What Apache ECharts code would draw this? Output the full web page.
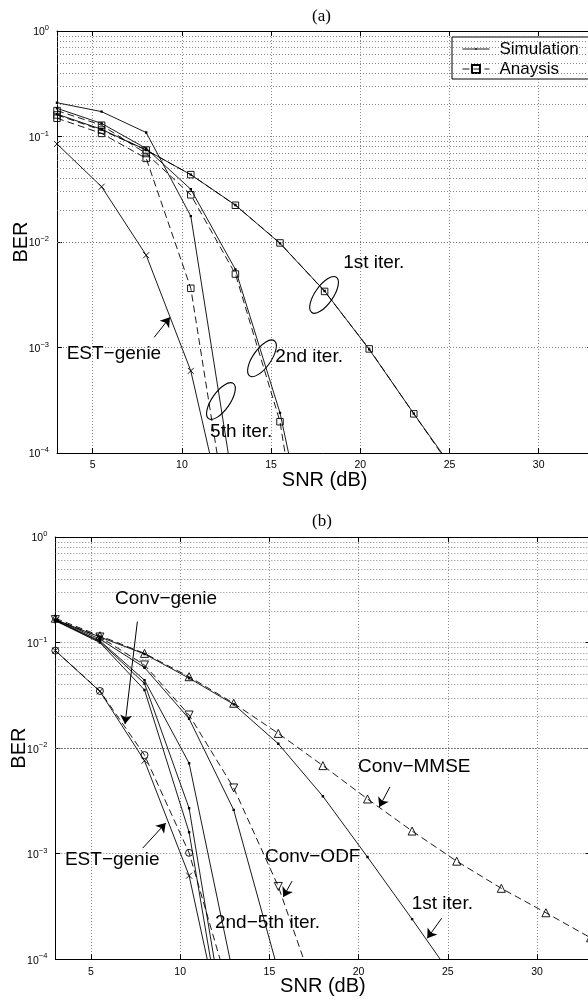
<!DOCTYPE html>
<html><head><meta charset="utf-8">
<script src="https://cdn.jsdelivr.net/npm/echarts@6/dist/echarts.min.js"></script>
<style>html,body{margin:0;padding:0;background:#fff}#c{width:588px;height:1000px}</style>
</head><body><div id="c"></div>
<script>
// ---------- data ----------
const snr = [3, 5.5, 8, 10.5, 13, 15.5, 18, 20.5, 23, 25.5, 28, 30.5, 33];
const xTicks = [5, 10, 15, 20, 25, 30];
const yMinorMult = [2, 3, 4, 5, 6, 7, 8, 9];
const yDecades = [1e-4, 1e-3, 1e-2, 1e-1];

// panel (a)
const a1Sim = [0.163, 0.117, 0.0745, 0.0435, 0.0224, 0.0097, 0.00343, 9.6e-4, 2.36e-4, 6e-5];
const a1Ana = [0.160, 0.115, 0.0745, 0.0435, 0.0223, 0.0098, 0.00340, 9.7e-4, 2.35e-4, 5.8e-5];
const a2Sim = [0.185, 0.133, 0.077, 0.0316, 0.0055, 2.4e-4, 2.5e-6];
const a2Ana = [0.176, 0.128, 0.069, 0.028, 0.00497, 1.98e-4, 4.5e-7];
const a5Sim = [0.209, 0.172, 0.109, 0.0176, 3.7e-5];
const a5Ana = [0.149, 0.107, 0.062, 0.00364, 8e-6];
const aEst  = [0.085, 0.0334, 0.0075, 6.0e-4, 8.5e-6];

// panel (b)
const bMmse = [0.17, 0.116, 0.079, 0.0475, 0.0266, 0.0138, 0.00683, 0.0033, 0.00164, 8.5e-4, 4.7e-4, 2.76e-4, 1.6e-4];
const bOdf  = [0.165, 0.113, 0.0614, 0.0206, 0.0042, 4.9e-4, 3e-5];
const bCg   = [0.084, 0.0348, 0.0086, 1.02e-3, 3.6e-5];
const bEst  = [0.084, 0.0345, 0.0076, 6.2e-4, 7e-6];
const b1    = [0.165, 0.113, 0.078, 0.046, 0.026, 0.011, 0.0035, 9.3e-4, 2.4e-4, 6e-5];
const b2    = [0.165, 0.108, 0.058, 0.019, 0.0026, 7.7e-5];
const b3    = [0.163, 0.104, 0.044, 0.0072, 6.8e-5];
const b4    = [0.162, 0.102, 0.041, 0.0027, 7.6e-6];
const b5    = [0.161, 0.100, 0.0356, 0.0016, 5e-6];

// annotations (data coordinates)
const annA = [['1st iter.', 19.04, 6.3e-3], ['2nd iter.', 15.24, 8.2e-4], ['5th iter.', 11.58, 1.59e-4], ['EST\u2212genie', 3.54, 8.8e-4]];
const ellA = [[17.97, 3.15e-3], [14.49, 7.9e-4], [12.19, 3.11e-4]];
const arrA = [[8.45, 1.25e-3, 9.33, 1.93e-3]];
const annB = [['Conv\u2212genie', 6.35, 0.259], ['EST\u2212genie', 3.54, 8.7e-4], ['Conv\u2212ODF', 14.75, 9.3e-4],
              ['Conv\u2212MMSE', 19.97, 6.6e-3], ['1st iter.', 22.98, 3.35e-4], ['2nd\u22125th iter.', 11.95, 2.22e-4]];
const arrB = [[7.6, 0.158, 6.91, 0.0169], [7.9, 1.13e-3, 9.19, 1.95e-3], [16.27, 5.5e-4, 15.78, 3.9e-4],
              [21.76, 4.3e-3, 21.16, 2.77e-3], [24.66, 2.45e-4, 23.85, 1.58e-4]];

// ---------- styles ----------
const FF = '"Liberation Sans", Arial, Helvetica, sans-serif';
const GRIDC = '#6a6a6a';
const DOT = 'path://M0,0h0.01v0.01h-0.01zM4,4h2v2h-2zM9.99,9.99h0.01v0.01h-0.01z';
const XMK = 'path://M0,0L10,10M10,0L0,10';
const SYM = {
  dot: {s: DOT, size: 12, fill: '#000'},
  sq: {s: 'rect', size: 6.5},
  x: {s: XMK, size: 6},
  o: {s: 'circle', size: 7},
  up: {s: 'triangle', size: 8},
  dn: {s: 'triangle', size: 8, rot: 180}
};

function ser(name, vals, gi, dashed, sym) {
  const sy = SYM[sym];
  return {
    type: 'line', name: name, xAxisIndex: gi * 2, yAxisIndex: gi * 2,
    data: vals.map((v, i) => [snr[i], v]),
    lineStyle: {color: '#000', width: 0.9, type: dashed ? [7, 4] : 'solid'},
    itemStyle: {color: sy.fill || 'rgba(0,0,0,0)', borderColor: '#000', borderWidth: sy.fill ? 0 : 0.9},
    symbol: sy.s, symbolSize: sy.size, symbolRotate: sy.rot || 0,
    showSymbol: true, showAllSymbol: true, z: 5, silent: true, clip: true, animation: false
  };
}

function minorVals() {
  const out = [];
  yDecades.forEach(d => yMinorMult.forEach(m => out.push({yAxis: d * m})));
  return out;
}
function gridSeries(gi) {
  return {
    type: 'line', name: 'grid' + gi, xAxisIndex: gi * 2, yAxisIndex: gi * 2, data: [], z: 1, silent: true, animation: false,
    markLine: {silent: true, animation: false, symbol: ['none', 'none'], label: {show: false},
      lineStyle: {color: GRIDC, type: [1, 2], width: 0.8}, emphasis: {disabled: true},
      data: minorVals()}
  };
}
function arrowSeries(gi, arr) {
  return {
    type: 'line', name: 'arrows' + gi, xAxisIndex: gi * 2, yAxisIndex: gi * 2, data: [], z: 6, silent: true, animation: false,
    markLine: {silent: true, animation: false, symbol: ['none', 'arrow'], symbolSize: 9, label: {show: false},
      lineStyle: {color: '#000', type: 'solid', width: 1}, emphasis: {disabled: true},
      data: arr.map(a => [{coord: [a[0], a[1]]}, {coord: [a[2], a[3]]}])}
  };
}

function xAx(gi, pos) {
  const bottom = pos === 'bottom';
  return {
    type: 'value', gridIndex: gi, position: pos, min: 3, max: 33,
    axisLine: {show: true, onZero: false, lineStyle: {color: '#000', width: 1}},
    axisTick: {show: true, inside: true, length: 5, customValues: xTicks, lineStyle: {color: '#000', width: 1}},
    axisLabel: {show: bottom, customValues: xTicks, fontSize: 10.5, color: '#000', margin: 7, fontFamily: FF},
    splitLine: {show: bottom, lineStyle: {color: GRIDC, type: [1, 2], width: 0.8}},
    name: bottom ? 'SNR (dB)' : '', nameLocation: 'middle', nameGap: 17, nameMoveOverlap: false,
    nameTextStyle: {fontSize: 20, color: '#000', fontFamily: FF}
  };
}
function yAx(gi, pos) {
  const left = pos === 'left';
  return {
    type: 'log', logBase: 10, gridIndex: gi, position: pos, min: 1e-4, max: 1,
    axisLine: {show: true, onZero: false, lineStyle: {color: '#000', width: 1}},
    axisTick: {show: true, inside: true, length: 5, lineStyle: {color: '#000', width: 1}},
    axisLabel: {
      show: left, margin: 8, color: '#000',
      formatter: v => {
        const e = Math.round(Math.log10(v));
        return '{b|10}{s|' + (e < 0 ? '\u2212' + (-e) : e) + '}';
      },
      rich: {
        b: {fontSize: 10.5, fontFamily: FF, color: '#000', verticalAlign: 'bottom'},
        s: {fontSize: 7.5, fontFamily: FF, color: '#000', verticalAlign: 'bottom', padding: [0, 0, 6, 0]}
      }
    },
    splitLine: {show: left, lineStyle: {color: GRIDC, type: [1, 2], width: 0.8}},
    name: left ? 'BER' : '', nameLocation: 'middle', nameGap: 26, nameRotate: 90, nameMoveOverlap: false,
    nameTextStyle: {fontSize: 20, color: '#000', fontFamily: FF}
  };
}

const option = {
  animation: false,
  backgroundColor: '#fff',
  title: [
    {text: '(a)', left: 312, top: 8, padding: 0, textStyle: {fontFamily: '"Liberation Serif", "Times New Roman", serif', fontSize: 17, fontWeight: 'normal', color: '#000'}},
    {text: '(b)', left: 312, top: 513, padding: 0, textStyle: {fontFamily: '"Liberation Serif", "Times New Roman", serif', fontSize: 17, fontWeight: 'normal', color: '#000'}}
  ],
  legend: {
    data: ['Simulation', 'Anaysis'], orient: 'vertical', left: 452, top: 37,
    backgroundColor: '#fff', borderColor: '#000', borderWidth: 1, borderRadius: 0,
    padding: [3, 40, 1, 10], itemWidth: 27, itemHeight: 10, itemGap: 2, selectedMode: false,
    lineStyle: {width: 0.9},
    textStyle: {fontSize: 17, lineHeight: 18, fontFamily: FF, color: '#000', padding: [0, 0, 0, 5]}
  },
  grid: [
    {left: 57, top: 31, width: 535.2, height: 422, containLabel: false, outerBoundsMode: 'none'},
    {left: 55.3, top: 537, width: 535.2, height: 422.3, containLabel: false, outerBoundsMode: 'none'}
  ],
  xAxis: [xAx(0, 'bottom'), xAx(0, 'top'), xAx(1, 'bottom'), xAx(1, 'top')],
  yAxis: [yAx(0, 'left'), yAx(0, 'right'), yAx(1, 'left'), yAx(1, 'right')],
  series: [
    gridSeries(0), gridSeries(1),
    ser('Simulation', a1Sim, 0, false, 'dot'),
    ser('Anaysis', a1Ana, 0, true, 'sq'),
    ser('a2 sim', a2Sim, 0, false, 'dot'),
    ser('a2 ana', a2Ana, 0, true, 'sq'),
    ser('a5 sim', a5Sim, 0, false, 'dot'),
    ser('a5 ana', a5Ana, 0, true, 'sq'),
    ser('a EST-genie', aEst, 0, false, 'x'),
    ser('Conv-MMSE', bMmse, 1, true, 'up'),
    ser('Conv-ODF', bOdf, 1, true, 'dn'),
    ser('Conv-genie', bCg, 1, true, 'o'),
    ser('b EST-genie', bEst, 1, false, 'x'),
    ser('b 1st', b1, 1, false, 'dot'),
    ser('b 2nd', b2, 1, false, 'dot'),
    ser('b 3rd', b3, 1, false, 'dot'),
    ser('b 4th', b4, 1, false, 'dot'),
    ser('b 5th', b5, 1, false, 'dot'),
    arrowSeries(0, arrA), arrowSeries(1, arrB)
  ]
};

const chart = echarts.init(document.getElementById('c'), null, {renderer: 'canvas', width: 588, height: 1000});
chart.setOption(option);

function px(gi, x, y) { return chart.convertToPixel({xAxisIndex: gi * 2, yAxisIndex: gi * 2}, [x, y]); }
const gfx = [];
function addText(gi, a) {
  const p = px(gi, a[1], a[2]);
  gfx.push({type: 'text', x: p[0], y: p[1], silent: true, z: 10,
    style: {text: a[0], fontSize: 19, fontFamily: FF, fill: '#000', align: 'left', verticalAlign: 'middle'}});
}
annA.forEach(a => addText(0, a));
annB.forEach(a => addText(1, a));
ellA.forEach(e => {
  const p = px(0, e[0], e[1]);
  gfx.push({type: 'ellipse', x: p[0], y: p[1], rotation: 55 * Math.PI / 180, silent: true, z: 10,
    shape: {cx: 0, cy: 0, rx: 21.5, ry: 9}, style: {fill: null, stroke: '#000', lineWidth: 1.1}});
});
chart.setOption({graphic: gfx});
</script>
</body></html>
